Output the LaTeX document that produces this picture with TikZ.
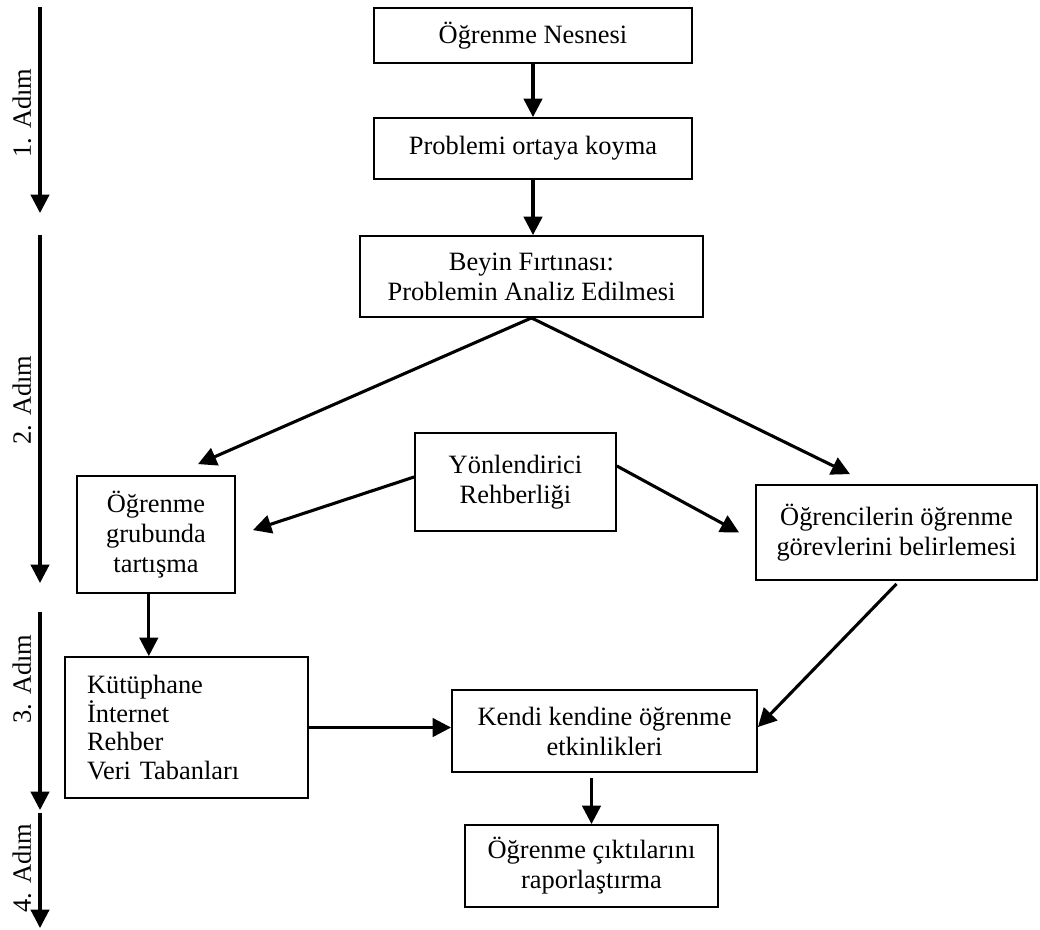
\documentclass[tikz,border=0pt]{standalone}
\usepackage{fontspec}
\setmainfont{Liberation Serif}
\usepackage{tikz}
\usetikzlibrary{arrows.meta, positioning}

\begin{document}
\begin{tikzpicture}[
    box/.style={rectangle, draw=black, fill=white, line width=1.3pt, inner sep=2pt, align=center, font=\fontsize{18.8}{21.3}\selectfont},
    steplabel/.style={rotate=90, inner sep=0pt, font=\fontsize{18.8}{21.3}\selectfont},
    line/.style={draw=black, line width=2.2pt, -{Triangle[length=0.46cm, width=0.46cm]}}
]
    \useasboundingbox (0,0) rectangle (26,-23.225);

    % Main flow (top)
    \node[box, minimum width=7.95cm, minimum height=1.375cm] (NESNE) at (13.325,-0.8875) {Öğrenme Nesnesi};
    \node[box, minimum width=7.95cm, minimum height=1.525cm] (PROBLEM) at (13.325,-3.7125) {Problemi ortaya koyma};
    \node[box, minimum width=8.575cm, minimum height=2.025cm] (BEYIN) at (13.2875,-6.9125) {
        Beyin Fırtınası:\\
        Problemin Analiz Edilmesi
    };

    % Middle row
    \node[box, minimum width=3.95cm, minimum height=2.925cm] (GRUP) at (3.9,-13.3625) {
        Öğrenme\\
        grubunda\\
        tartışma
    };
    \node[box, minimum width=5.025cm, minimum height=2.45cm] (YON) at (12.8875,-12.05) {
        Yönlendirici\\
        Rehberliği
    };
    \node[box, minimum width=7.025cm, minimum height=2.375cm] (OGRENCI) at (22.4125,-13.3125) {
        Öğrencilerin öğrenme\\
        görevlerini belirlemesi
    };

    % Bottom row
    \node[box, text width=4.975cm, inner xsep=0.55cm, align=left, minimum height=3.525cm, font=\fontsize{18.8}{20.3}\selectfont] (KAYNAK) at (4.6625,-18.1875) {
        Kütüphane\\
        İnternet\\
        Rehber\\
        Veri Tabanları
    };
    \node[box, minimum width=7.625cm, minimum height=2.05cm] (KENDI) at (15.1125,-18.275) {
        Kendi kendine öğrenme\\
        etkinlikleri
    };
    \node[box, minimum width=6.325cm, minimum height=2.05cm] (RAPOR) at (14.7875,-21.65) {
        Öğrenme çıktılarını\\
        raporlaştırma
    };

    % Connections
    \draw[line] (NESNE) -- (PROBLEM);
    \draw[line] (PROBLEM.south) -- (PROBLEM.south |- BEYIN.north);
    \draw[line] (BEYIN.south) -- ([xshift=1.05cm, yshift=0.275cm]GRUP.north);
    \draw[line] (BEYIN.south) -- ([xshift=-1.1625cm, yshift=0.25cm]OGRENCI.north);
    \draw[line] ([yshift=0.125cm]YON.west) -- ([xshift=0.425cm, yshift=0.11cm]GRUP.east);
    \draw[line] ([yshift=0.4cm]YON.east) -- ([xshift=-0.4cm]OGRENCI.west);
    \draw[line] ([xshift=-0.18cm]GRUP.south) -- ([xshift=-0.18cm]GRUP.south |- KAYNAK.north);
    \draw[line] (KAYNAK.east) -- (KAYNAK.east -| KENDI.west);
    \draw[line] ([yshift=-0.075cm]OGRENCI.south) -- ([yshift=0.1cm]KENDI.east);
    \draw[line, shorten <=0.12cm] (RAPOR.north |- KENDI.south) -- (RAPOR.north);

    % Steps on the left
    \coordinate (S1a) at (1.0,-0.175);
    \coordinate (S1b) at (1.0,-5.325);
    \coordinate (S2a) at (1.0,-5.875);
    \coordinate (S2b) at (1.0,-14.575);
    \coordinate (S3a) at (1.0,-15.3);
    \coordinate (S3b) at (1.0,-20.25);
    \coordinate (S4a) at (1.0,-20.325);
    \coordinate (S4b) at (1.0,-23.2);
    \draw[line] (S1a) -- (S1b);
    \draw[line] (S2a) -- (S2b);
    \draw[line] (S3a) -- (S3b);
    \draw[line] (S4a) -- (S4b);
    \node[steplabel] (A1) at (0.55,-2.825) {1. Adım};
    \node[steplabel] (A2) at (0.55,-10.0) {2. Adım};
    \node[steplabel] (A3) at (0.55,-16.975) {3. Adım};
    \node[steplabel] (A4) at (0.55,-21.7) {4. Adım};
\end{tikzpicture}
\end{document}
